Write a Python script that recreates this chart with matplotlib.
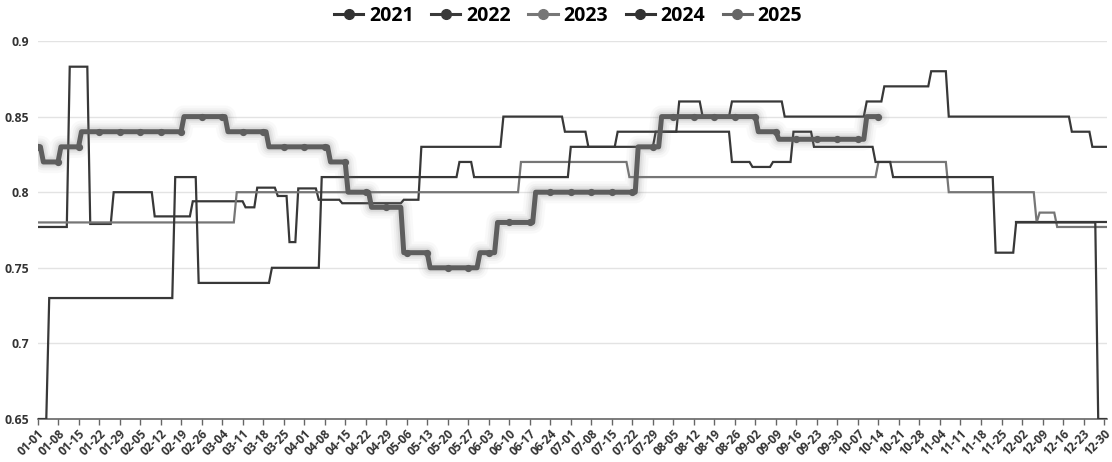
import numpy as np
import pandas as pd
import matplotlib
matplotlib.use("Agg")
import matplotlib.pyplot as plt
from matplotlib.lines import Line2D

plt.rcParams["font.family"] = ["Open Sans", "DejaVu Sans"]

# ---------------- data ----------------
# x categories: month-day of a leap year (366 categories), labels every 7 days
categories = pd.date_range("2024-01-01", "2024-12-31").strftime("%m-%d").tolist()
n_days = len(categories)

series_names = ["2021", "2022", "2023", "2024", "2025"]

# step series: start day index of each level, and the level
s2021_starts = [334]
s2021_vals = [0.78]

s2022_starts = [0, 11, 18, 26, 40, 53, 71, 75, 82, 86, 89, 96, 104, 125, 131,
                159, 180, 188, 198, 219, 227, 237, 255, 283, 289, 305, 311, 353, 360]
s2022_vals = [0.777, 0.883, 0.779, 0.80, 0.784, 0.794, 0.79, 0.803, 0.7975, 0.767,
              0.8025, 0.795, 0.7927, 0.795, 0.83, 0.85, 0.84, 0.83, 0.84, 0.86,
              0.85, 0.86, 0.85, 0.86, 0.87, 0.88, 0.85, 0.84, 0.83]

s2023_starts = [0, 68, 165, 202, 287, 311, 341, 342, 348]
s2023_vals = [0.78, 0.80, 0.82, 0.81, 0.82, 0.80, 0.78, 0.7865, 0.777]

s2024_starts = [0, 4, 47, 55, 80, 97, 144, 149, 182, 211, 237, 244, 251, 258, 265,
                286, 292, 327, 334, 362]
s2024_vals = [0.65, 0.73, 0.81, 0.74, 0.75, 0.81, 0.82, 0.81, 0.83, 0.84, 0.82,
              0.8167, 0.82, 0.84, 0.83, 0.82, 0.81, 0.76, 0.78, 0.65]

s2025_starts = [0, 2, 8, 15, 50, 65, 79, 100, 106, 114, 125, 134, 151, 157, 170,
                205, 213, 246, 253, 283]
s2025_vals = [0.83, 0.82, 0.83, 0.84, 0.85, 0.84, 0.83, 0.82, 0.80, 0.79, 0.76,
              0.75, 0.76, 0.78, 0.80, 0.83, 0.85, 0.84, 0.835, 0.85]
s2025_end = 288  # data through 10-14

y_ticks = [0.65, 0.7, 0.75, 0.8, 0.85, 0.9]
y_tick_labels = ["0.65", "0.7", "0.75", "0.8", "0.85", "0.9"]


def expand(starts, vals, end):
    lengths = np.diff(list(starts) + [end])
    days = np.arange(starts[0], end)
    return days, np.repeat(vals, lengths)


# ---------------- figure ----------------
W, H = 1112, 462
fig = plt.figure(figsize=(W / 100, H / 100), dpi=100)
ax = fig.add_axes([37.5 / W, 1 - 419 / H, (1107 - 37.5) / W, (419 - 41) / H])

dark = "#383838"
light = "#767676"
c2025 = "#5e5e5e"

for starts, vals, col in [(s2021_starts, s2021_vals, dark),
                          (s2022_starts, s2022_vals, dark),
                          (s2023_starts, s2023_vals, light),
                          (s2024_starts, s2024_vals, dark)]:
    d, v = expand(starts, vals, n_days)
    ax.plot(d, v, color=col, lw=1.6, solid_joinstyle="miter", zorder=3)

# 2025: thick line with glow shadow and weekly markers
d25, v25 = expand(s2025_starts, s2025_vals, s2025_end)
for lw, a in [(16, 0.04), (12, 0.06), (9, 0.08), (6.5, 0.10)]:
    ax.plot(d25, v25, color="#777777", lw=lw, alpha=a, solid_capstyle="round",
            solid_joinstyle="round", zorder=4)
ax.plot(d25, v25, color=c2025, lw=3.6, solid_joinstyle="round",
        solid_capstyle="round", zorder=5)
ax.plot(d25[::7], v25[::7], "o", color=c2025, ms=4.2, zorder=6)

ax.set_xlim(0, n_days - 1)
ax.set_ylim(0.65, 0.9)

xt = list(range(0, n_days, 7))
ax.set_xticks(xt)
ax.set_xticklabels([categories[i] for i in xt], rotation=45, ha="right",
                   rotation_mode="anchor", fontsize=8.6, fontweight="bold",
                   color="#333333")
ax.set_yticks(y_ticks)
ax.set_yticklabels(y_tick_labels, fontsize=8.8, fontweight="bold", color="#333333")
ax.tick_params(axis="x", length=4, width=1, color="#666666", pad=2)
ax.tick_params(axis="y", length=0, pad=6)

ax.grid(axis="y", color="#e3e3e3", lw=1)
ax.set_axisbelow(True)
for s in ["top", "right", "left"]:
    ax.spines[s].set_visible(False)
ax.spines["bottom"].set_color("#666666")
ax.spines["bottom"].set_linewidth(1.2)
ax.spines["bottom"].set_zorder(2)

handles = [Line2D([], [], color=c, lw=2.2, marker="o", ms=7)
           for c in ["#333333", "#3a3a3a", "#777777", "#333333", "#666666"]]
fig.legend(handles, series_names, loc="upper center", bbox_to_anchor=(0.511, 1.025),
           ncol=5, frameon=False, handlelength=1.5, handletextpad=0.3,
           columnspacing=0.9, prop={"weight": "bold", "size": 14})

fig.savefig("out.png", dpi=100)
